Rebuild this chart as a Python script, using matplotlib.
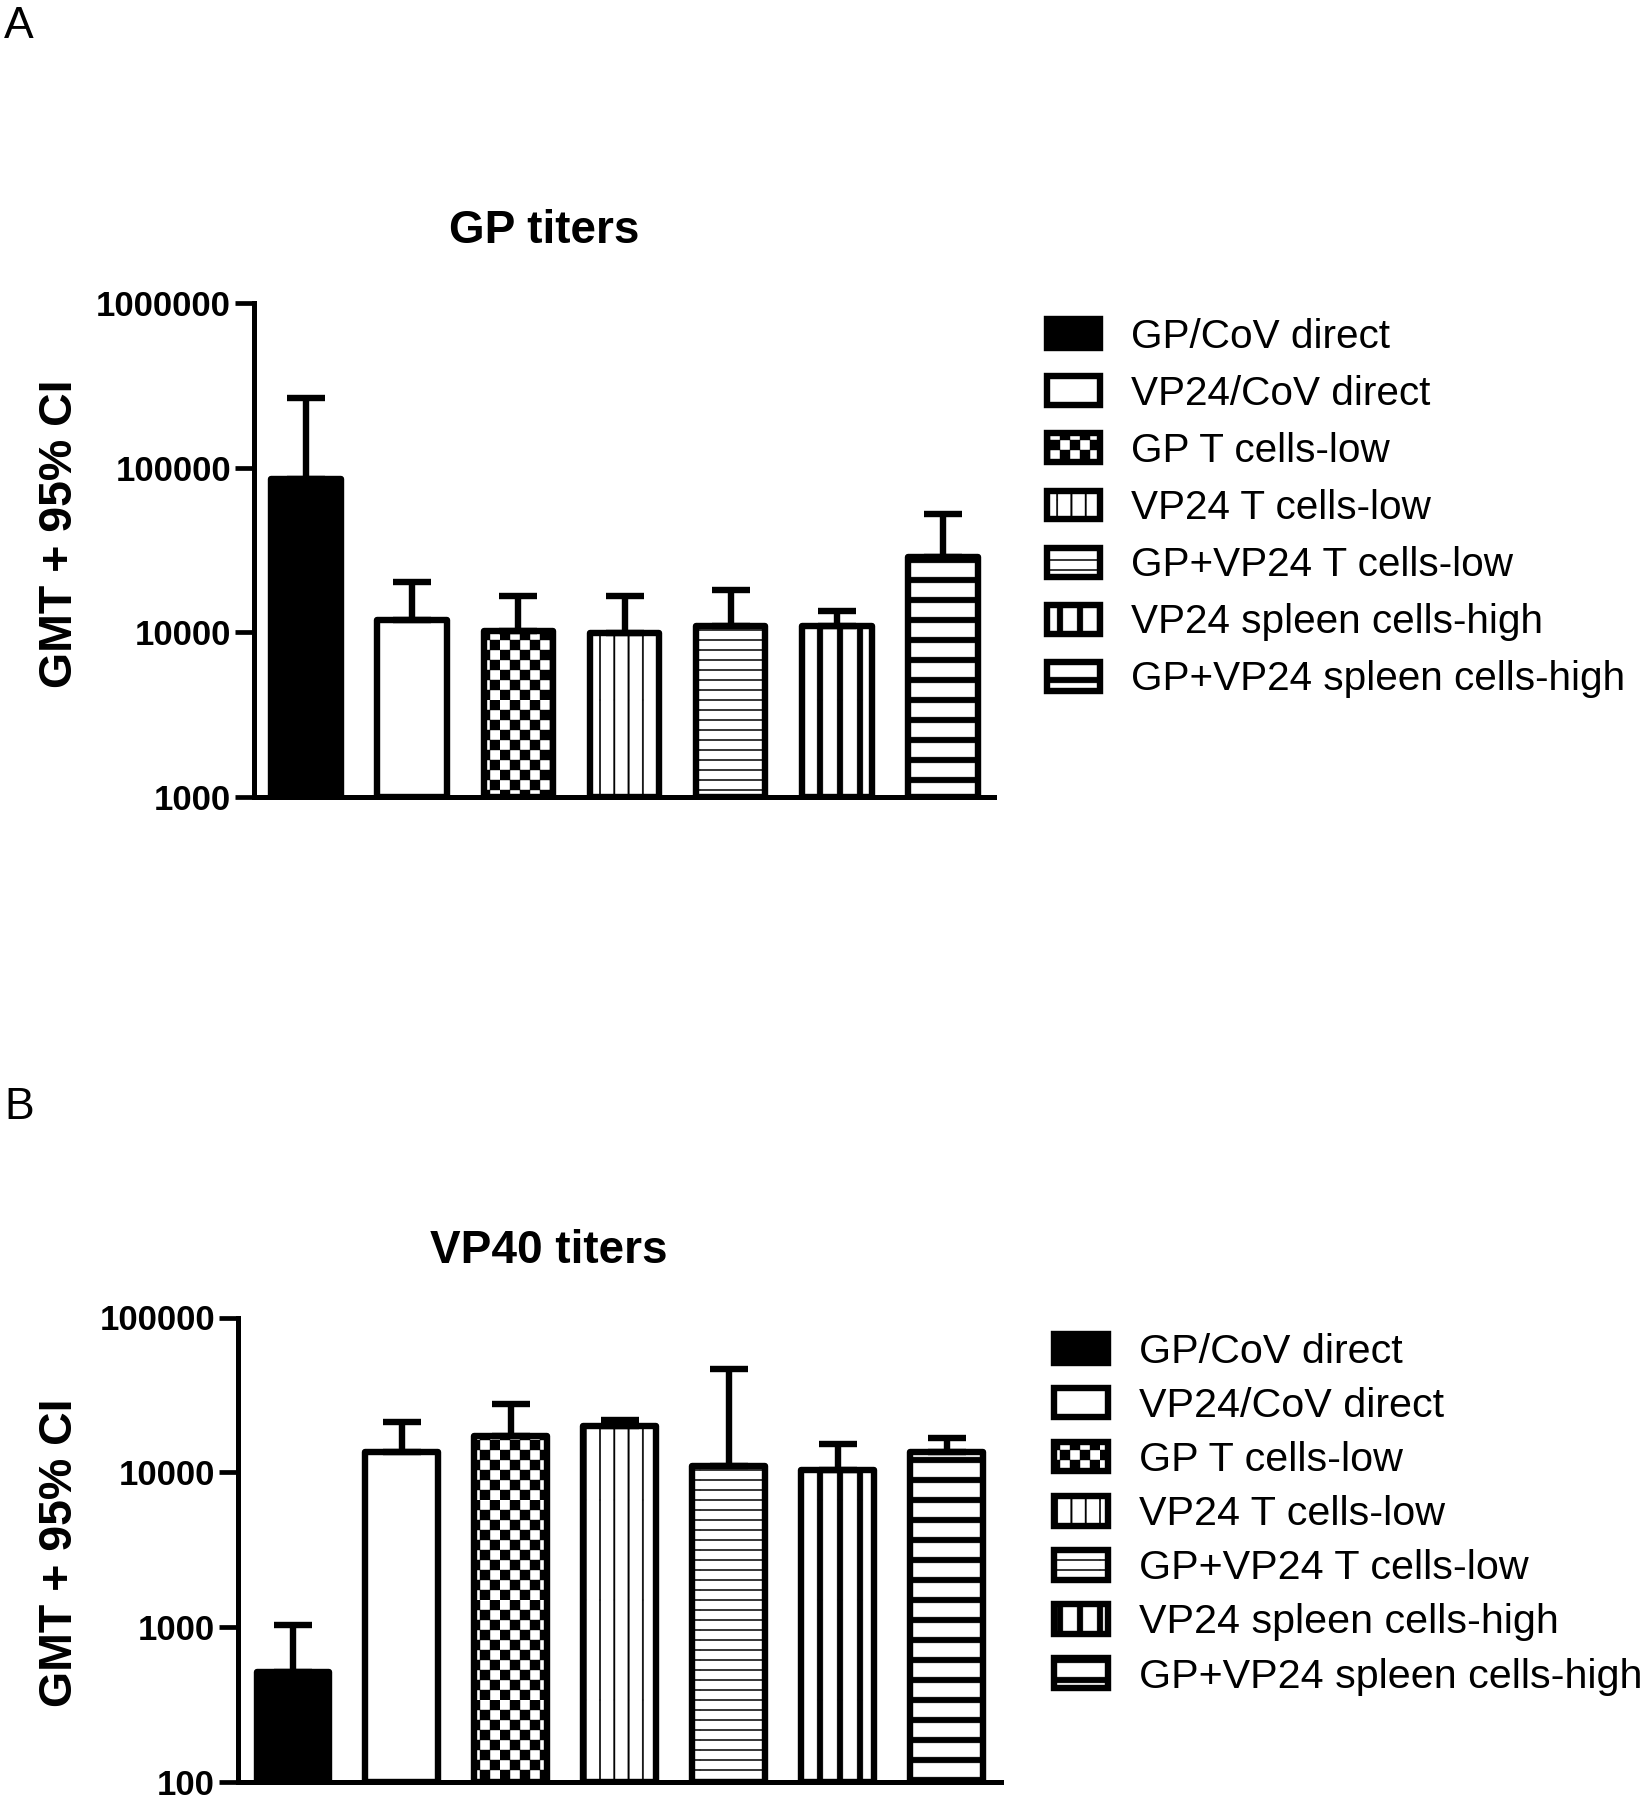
import numpy as np
import matplotlib
matplotlib.use("Agg")
import matplotlib.pyplot as plt
import matplotlib.hatch as mhatch
from matplotlib.path import Path

# ---------------- data ----------------
groups = ["GP/CoV direct", "VP24/CoV direct", "GP T cells-low", "VP24 T cells-low",
          "GP+VP24 T cells-low", "VP24 spleen cells-high", "GP+VP24 spleen cells-high"]

gp_gmt = [85000, 11900, 10200, 9900, 10900, 10900, 28500]
gp_upper = [267000, 20300, 16500, 16500, 18100, 13400, 52300]

vp40_gmt = [517, 13500, 17200, 19800, 11000, 10300, 13500]
vp40_upper = [1030, 21100, 27800, 21800, 46500, 15300, 16600]

gp_ticks = [1000, 10000, 100000, 1000000]
vp40_ticks = [100, 1000, 10000, 100000]

# ---------------- styles ----------------
facecolors = ["black", "white", "white", "white", "white", "white", "white"]
hatches = [None, None, "+", "|", "-", "O", "o"]

W, H = 1643, 1800
plt.rcParams["font.family"] = ["Liberation Sans", "DejaVu Sans"]
plt.rcParams["hatch.linewidth"] = 0.3
plt.rcParams["hatch.color"] = "black"

# custom filled-rectangle hatches (tile = 100 px at dpi 100)
class _RectHatch(mhatch.HatchPatternBase):
    char = ""

    def __init__(self, hatch, density):
        self.rects = self.build() if (hatch and self.char in hatch) else []
        self.num_vertices = 5 * len(self.rects)

    def build(self):
        return []

    def set_vertices_and_codes(self, vertices, codes):
        for i, (x0, y0, x1, y1) in enumerate(self.rects):
            vertices[5 * i:5 * i + 5] = [(x0, y0), (x1, y0), (x1, y1), (x0, y1), (x0, y0)]
            codes[5 * i:5 * i + 5] = [Path.MOVETO, Path.LINETO, Path.LINETO,
                                      Path.LINETO, Path.CLOSEPOLY]


class Checker(_RectHatch):
    char = "+"

    def build(self):
        n = 5
        p = 1.0 / n
        h = p / 2
        r = []
        for i in range(n):
            for j in range(n):
                r.append((i * p, j * p, i * p + h, j * p + h))
                r.append((i * p + h, j * p + h, (i + 1) * p, (j + 1) * p))
        return r


def make_lines(ch, n, w, vertical):
    class Lines(_RectHatch):
        char = ch

        def build(self):
            out = []
            for k in range(n + 1):
                c = k / n
                if vertical:
                    out.append((c - w / 2, 0, c + w / 2, 1))
                else:
                    out.append((0, c - w / 2, 1, c + w / 2))
            return out
    return Lines


mhatch._hatch_types[:] = [
    Checker,
    make_lines("|", 7, 0.014, True),
    make_lines("-", 10, 0.012, False),
    make_lines("O", 5, 0.058, True),
    make_lines("o", 5, 0.058, False),
]

LW = 4.6

fig = plt.figure(figsize=(W / 100, H / 100), dpi=100)


def panel(rect, gmt, upper, ticks, xlim, width, title, title_xy, ylabel_xy,
          letter, letter_xy, leg_anchor, leg_fs, leg_spacing):
    ax = fig.add_axes(rect)
    ax.set_yscale("log")
    base = ticks[0]
    x = np.arange(len(groups))
    gmt = np.array(gmt, float)
    upper = np.array(upper, float)
    bars = ax.bar(x, gmt - base, bottom=base, width=width, color=facecolors,
                  edgecolor="black", linewidth=LW, zorder=2, joinstyle="round")
    for b, h in zip(bars, hatches):
        if h:
            b.set_hatch(h)
    ax.errorbar(x, gmt, yerr=[np.zeros_like(gmt), upper - gmt], fmt="none",
                ecolor="black", elinewidth=LW, capsize=13.5, capthick=LW, zorder=3)
    ax.set_ylim(ticks[0], ticks[-1])
    ax.set_xlim(*xlim)
    ax.set_yticks(ticks)
    ax.set_yticklabels([str(t) for t in ticks], fontsize=25, fontweight="bold")
    ax.yaxis.set_minor_locator(matplotlib.ticker.NullLocator())
    ax.set_xticks([])
    for s in ("top", "right"):
        ax.spines[s].set_visible(False)
    for s in ("left", "bottom"):
        ax.spines[s].set_linewidth(3.6)
    ax.tick_params(axis="y", direction="out", length=13.5, width=3.4, pad=3)
    fig.text(title_xy[0] / W, 1 - title_xy[1] / H, title, ha="center", va="center",
             fontsize=33, fontweight="bold")
    fig.text(ylabel_xy[0] / W, 1 - ylabel_xy[1] / H, "GMT + 95% CI", ha="center",
             va="center", rotation=90, fontsize=33.5, fontweight="bold")
    fig.text(letter_xy[0] / W, 1 - letter_xy[1] / H, letter, ha="left",
             va="baseline", fontsize=32)
    fig.legend(bars.patches, groups, loc="upper left",
               bbox_to_anchor=(leg_anchor[0] / W, 1 - leg_anchor[1] / H),
               frameon=False, fontsize=leg_fs, borderpad=0, borderaxespad=0,
               handlelength=1.3, handleheight=0.72, handletextpad=0.76,
               labelspacing=leg_spacing)
    return ax


panel([254 / W, 1 - 796.5 / H, 740 / W, (796.5 - 303.3) / H],
      gp_gmt, gp_upper, gp_ticks, (-0.49, 6.48), 0.655, "GP titers",
      (544, 231), (60, 534), "A", (4, 38), (1047, 318), 29.2, 0.47)

panel([238 / W, 1 - 1782 / H, 763 / W, (1782 - 1317.5) / H],
      vp40_gmt, vp40_upper, vp40_ticks, (-0.505, 6.5), 0.67, "VP40 titers",
      (549, 1251), (60, 1553), "B", (4, 1119), (1054, 1333), 29.7, 0.39)

fig.savefig("out.png", dpi=100)
